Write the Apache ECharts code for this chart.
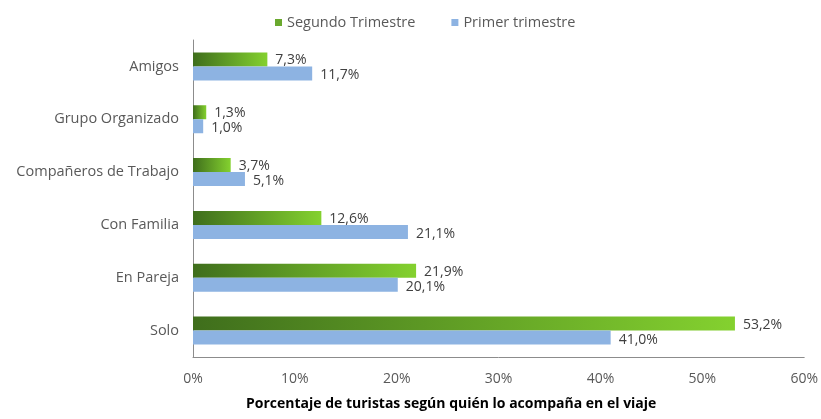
<!DOCTYPE html>
<html>
<head>
<meta charset="utf-8">
<script src="https://cdn.jsdelivr.net/npm/echarts@6/dist/echarts.min.js"></script>
<style>
  html,body{margin:0;padding:0;background:#fff;}
  #chart{width:821px;height:419px;}
</style>
</head>
<body>
<div id="chart"></div>
<script>
// categorias (de abajo hacia arriba, como las pinta el eje)
var categorias = ['Solo', 'En Pareja', 'Con Familia', 'Compañeros de Trabajo', 'Grupo Organizado', 'Amigos'];
// valores en %
var segundoTrimestre = [53.2, 21.9, 12.6, 3.7, 1.3, 7.3];
var primerTrimestre = [41.0, 20.1, 21.1, 5.1, 1.0, 11.7];
var nombresSeries = ['Segundo Trimestre', 'Primer trimestre'];
var tituloEje = 'Porcentaje de turistas según quién lo acompaña en el viaje';

var fuente = '"Open Sans", sans-serif';
var gris = '#595959';

// formato con coma decimal
function pct(v){
    return v.toFixed(1).replace('.', ',') + '%';
}

var mychart = echarts.init(document.getElementById('chart'));
var option = {
    backgroundColor: '#ffffff',
    animation: false,
    textStyle: { fontFamily: fuente },
    grid: { left: 193, right: 11, top: 40, bottom: 62 },
    legend: {
        top: 10,
        left: 270,
        itemWidth: 7,
        itemHeight: 7,
        itemGap: 36,
        icon: 'rect',
        textStyle: { color: gris, fontSize: 14.5, fontFamily: fuente },
        data: [
            { name: nombresSeries[0], itemStyle: { color: '#6aa92e' } },
            { name: nombresSeries[1], itemStyle: { color: '#8db3e2' } }
        ]
    },
    xAxis: {
        type: 'value',
        min: 0,
        max: 60,
        interval: 10,
        axisLine: { show: true, lineStyle: { color: '#8c8c8c', width: 1 } },
        axisTick: { show: false },
        splitLine: { show: false },
        axisLabel: {
            color: gris,
            fontSize: 14,
            margin: 15,
            formatter: function(v){ return v + '%'; }
        }
    },
    yAxis: {
        type: 'category',
        data: categorias,
        axisLine: { show: true, lineStyle: { color: '#8c8c8c', width: 1 } },
        axisTick: { show: false },
        axisLabel: { color: gris, fontSize: 14.5, margin: 14 }
    },
    series: [
        {
            name: nombresSeries[0],
            type: 'bar',
            data: segundoTrimestre,
            barWidth: 14,
            barGap: '0%',
            itemStyle: {
                color: new echarts.graphic.LinearGradient(0, 0, 1, 0, [
                    { offset: 0, color: '#3f6e1c' },
                    { offset: 1, color: '#84d12f' }
                ])
            },
            label: {
                show: true,
                position: 'right',
                distance: 8,
                offset: [0, 1],
                color: '#404040',
                fontSize: 14,
                formatter: function(p){ return pct(p.value); }
            }
        },
        {
            name: nombresSeries[1],
            type: 'bar',
            data: primerTrimestre,
            barWidth: 14,
            itemStyle: { color: '#8db3e2' },
            label: {
                show: true,
                position: 'right',
                distance: 8,
                offset: [0, 2],
                color: '#404040',
                fontSize: 14,
                formatter: function(p){ return pct(p.value); }
            }
        }
    ],
    graphic: [
        {
            type: 'text',
            left: 246,
            top: 397,
            style: {
                text: tituloEje,
                fill: '#000000',
                font: 'bold 14px ' + fuente
            }
        }
    ]
};
mychart.setOption(option);
</script>
</body>
</html>
